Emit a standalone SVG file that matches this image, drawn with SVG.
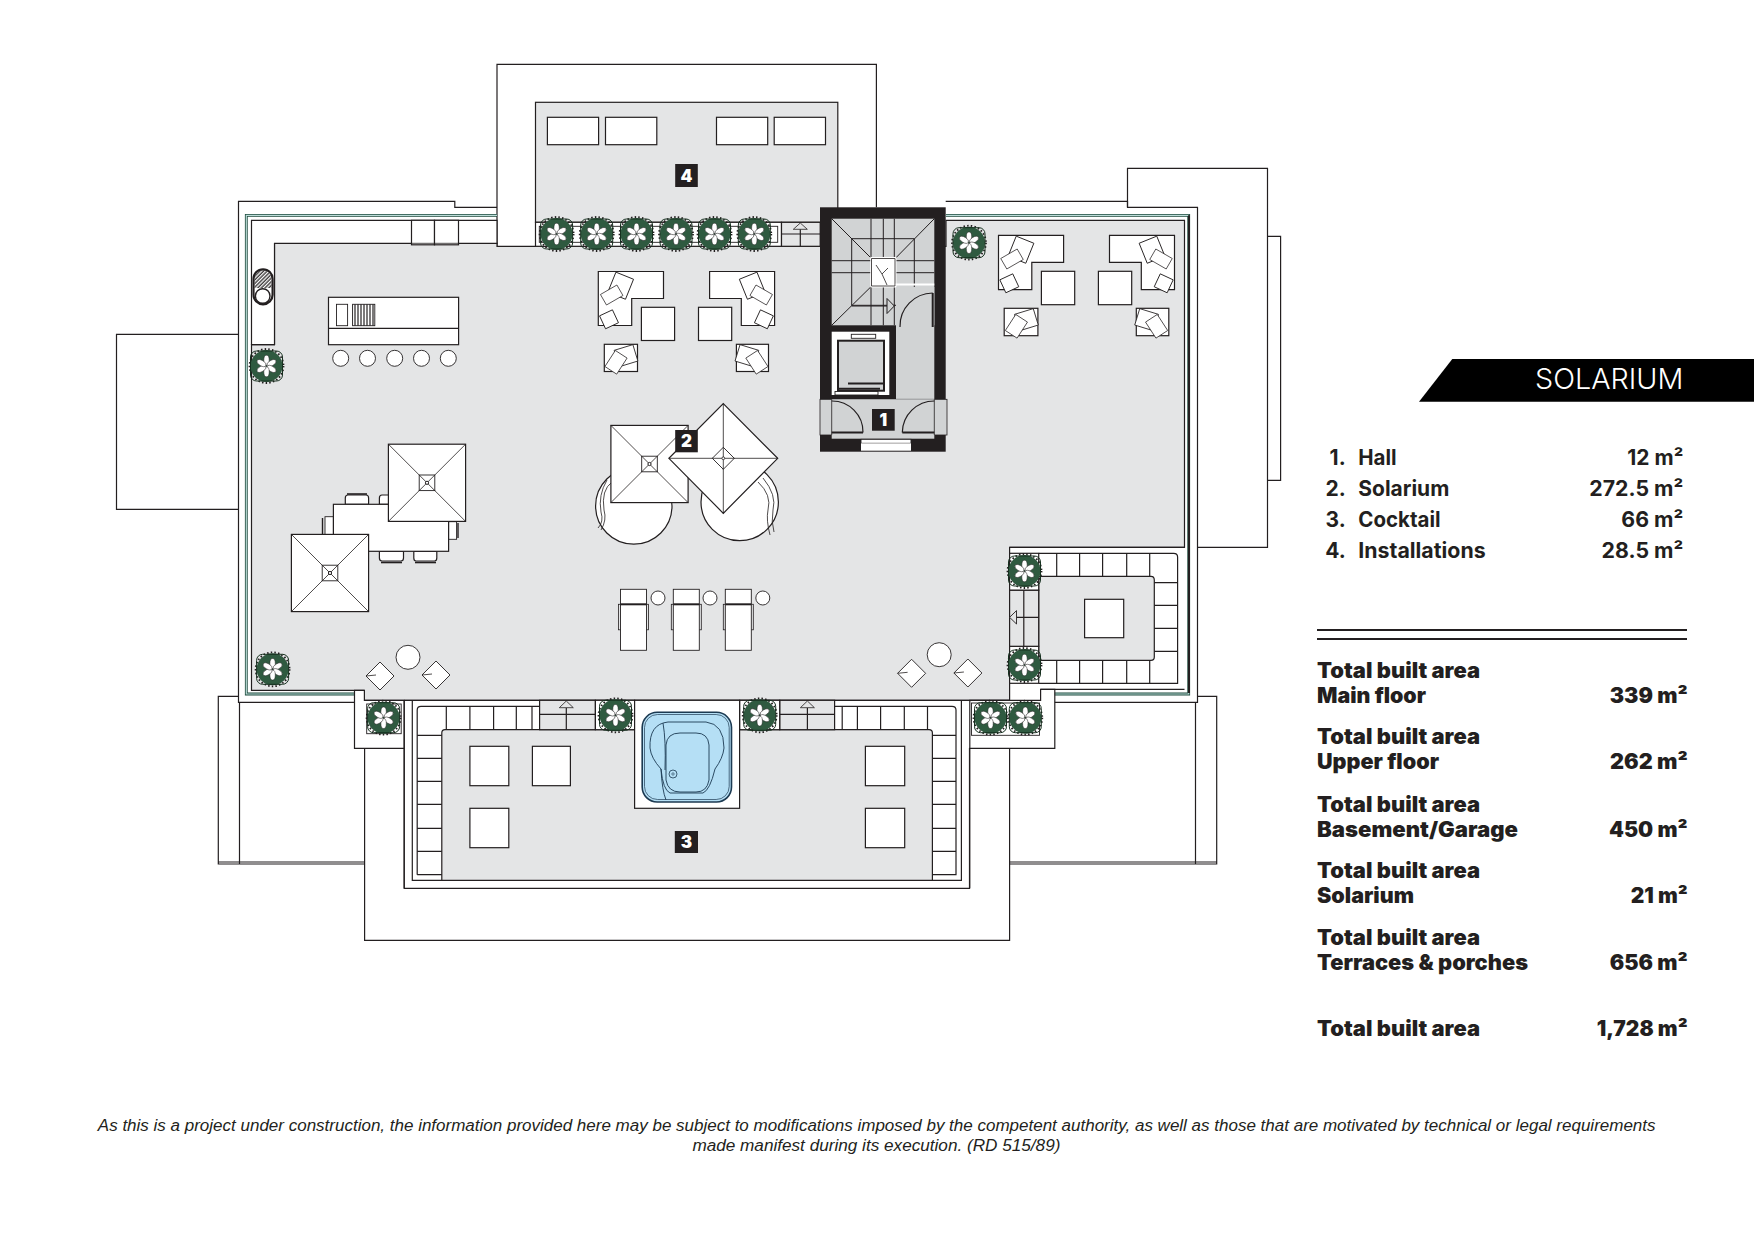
<svg xmlns="http://www.w3.org/2000/svg" xmlns:xlink="http://www.w3.org/1999/xlink" width="1754" height="1240" viewBox="0 0 1754 1240">
<style>
.l{fill:none;stroke:#231f20;stroke-width:1.2}
.t{fill:none;stroke:#231f20;stroke-width:.8}
.w{fill:#fff;stroke:#231f20;stroke-width:1.2}
.wt{fill:#fff;stroke:#231f20;stroke-width:.9}
.g{fill:#e4e5e6;stroke:#231f20;stroke-width:1.2}
.s{fill:#d1d3d4;stroke:#231f20;stroke-width:.9}
.k{fill:#231f20}
.n{font-family:Inter,"Liberation Sans",sans-serif;font-weight:900;font-size:17px;fill:#fff;text-anchor:middle}
.a{font-family:Inter,"Liberation Sans",sans-serif;font-weight:700;font-size:21px;fill:#231f20}
.b{font-family:Inter,"Liberation Sans",sans-serif;font-weight:900;font-size:21px;fill:#231f20}
.e{text-anchor:end}
.f{font-family:"Liberation Sans",sans-serif;font-style:italic;font-size:16px;fill:#231f20;text-anchor:middle}
</style>
<defs>
<g id="plant">
<circle r="16" fill="#2f5a40"/>
<circle r="17" fill="none" stroke="#231f20" stroke-width="1.8" stroke-dasharray="1.5 2.2"/>
<rect x="-16" y="-15" width="32" height="30" rx="6" fill="none" stroke="#16301f" stroke-width="1"/>
<g fill="#fff" stroke="#231f20" stroke-width=".5">
<ellipse cx="0" cy="-5.8" rx="2.7" ry="5"/>
<ellipse cx="0" cy="-5.8" rx="2.7" ry="5" transform="rotate(60)"/>
<ellipse cx="0" cy="-5.8" rx="2.7" ry="5" transform="rotate(120)"/>
<ellipse cx="0" cy="-5.8" rx="2.7" ry="5" transform="rotate(180)"/>
<ellipse cx="0" cy="-5.8" rx="2.7" ry="5" transform="rotate(240)"/>
<ellipse cx="0" cy="-5.8" rx="2.7" ry="5" transform="rotate(300)"/>
</g>
</g>
<g id="parasol">
<rect x="-38.6" y="-38.6" width="77.2" height="77.2" class="w"/>
<path d="M-38.6-38.6L38.6 38.6M38.6-38.6L-38.6 38.6" class="t"/>
<rect x="-7.8" y="-7.8" width="15.6" height="15.6" class="wt"/>
<path d="M-7.8-7.8L7.8 7.8M7.8-7.8L-7.8 7.8" class="t"/>
<circle r="1.6" fill="#fff" stroke="#231f20"/>
</g>
<rect id="pil" x="-10" y="-11" width="20" height="22" class="wt"/>
<rect id="pils" x="-7.5" y="-7.5" width="15" height="15" class="wt"/>
<g id="bed">
<rect x="-2" y="15" width="30" height="25.5" class="t"/>
<rect x="0" y="0" width="26" height="61" class="wt"/>
<path d="M0 15H26" stroke="#231f20" stroke-width="2"/>
</g>
<g id="seat"><path d="M-14 0L0-14L14 0L0 14Z" class="wt"/><path d="M-14 0L-4 -1" class="t"/></g>
<pattern id="hatch" width="3" height="4" patternUnits="userSpaceOnUse"><path d="M1 0V4" stroke="#231f20" stroke-width="1.2"/></pattern>
<pattern id="diag" width="2.6" height="2.6" patternUnits="userSpaceOnUse" patternTransform="rotate(45)"><path d="M1 0V2.6" stroke="#231f20" stroke-width="1.2"/></pattern>
</defs>
<rect width="1754" height="1240" fill="#fff"/>

<g id="outlines">
<path class="l" d="M497 207.3H454.8V201.3H238.5V702.3H354.5"/>
<path class="l" d="M945.7 201.3H1127.5V207.3H1197.5V702.3H1054.8"/>
<path class="l" d="M1127.5 207.3V168.3H1267.5V547.3H1197.5"/>
<path class="l" d="M1267.5 236.3H1280.6V480.3H1267.5"/>
<path class="l" d="M238.5 334.3H116.5V509.3H238.5"/>
<path class="l" d="M238.5 696.3H218.3V864H364.6M218.3 862H364.6M239.5 702.3V864"/>
<path class="l" d="M1197.5 696.3H1216.7V864H1009.6M1216.7 862H1009.6M1195.5 702.3V864"/>
<path class="l" d="M364.6 748.3V940.3H1009.6V748.3"/>
<path class="l" d="M497 246.3V64.3H876.4V207.3"/>
</g>

<g id="wall-band">
<path d="M497 215.3H246.3V694H354.5" fill="none" stroke="#1d4a3c" stroke-width="2.8"/>
<path d="M497 215.3H246.3V694H354.5" fill="none" stroke="#bcdcd8" stroke-width="1.2"/>
<path d="M946 215.3H1188.7V694H1054.8" fill="none" stroke="#1d4a3c" stroke-width="2.8"/>
<path d="M946 215.3H1188.7V694H1054.8" fill="none" stroke="#bcdcd8" stroke-width="1.2"/>
<path d="M1189 215.3V693" stroke="#231f20" stroke-width="2"/>
</g>

<g id="area-2-solarium">
<path class="g" d="M274.5 243.3H497V246.3H946V220.3H1184.5V547.3H1009.6V700.3H364.4V690.3H251.5V344.7H274.5Z"/>
<path class="w" d="M251.5 344.7V220.3H497V243.3H274.5V344.7Z"/>
<path class="l" d="M364.4 690.3H354.5V748.3H404.2M364.4 700.3H404.2V888.3H969.5V748.3H1054.8V689.3H1040.6V700.3H969.8V888.3"/>
<path class="l" d="M404.2 700.3V888.3"/>
<path class="l" d="M1040.6 689.3H1184.5"/>
<rect x="411.5" y="220.3" width="23" height="24.5" class="w"/><rect x="434.5" y="220.3" width="24" height="24.5" class="w"/>
<path d="M411.5 243.3H458.5" class="t"/>
</g>

<g id="shower">
<rect x="253.5" y="269.3" width="19.1" height="35" rx="9.5" fill="#fff" stroke="#231f20" stroke-width="2.2"/>
<path d="M254.5 279A8.5 9 0 0 1 271.5 279V288H254.5Z" fill="url(#diag)"/>
<circle cx="262.7" cy="296" r="7.3" fill="#fff" stroke="#231f20" stroke-width="1.4"/>
</g>

<g id="bar">
<rect x="328.5" y="297.3" width="130.1" height="47.4" class="w"/>
<path d="M328.5 328.3H458.6" class="l"/>
<rect x="336.5" y="304.3" width="11.1" height="21.4" class="wt"/>
<rect x="352.6" y="304.3" width="22.2" height="21.4" fill="url(#hatch)" stroke="#231f20" stroke-width=".9"/>
<g class="wt"><circle cx="340.7" cy="358.3" r="8"/><circle cx="367.5" cy="358.3" r="8"/><circle cx="394.7" cy="358.3" r="8"/><circle cx="421.5" cy="358.3" r="8"/><circle cx="448.3" cy="358.3" r="8"/></g>
</g>

<g id="lounge-a">
<path class="w" d="M598.3 271.5H663.5V298.5H631.7V325.5H598.3Z"/>
<use href="#pil" transform="translate(620.7 285.7) rotate(22) scale(.95 .98)"/><use href="#pil" transform="translate(611.7 295) rotate(-30) scale(.95 .55)"/><use href="#pils" transform="translate(609 319.3) rotate(-25) scale(.95)"/>
<rect x="641.4" y="307.3" width="33.2" height="33.2" class="w"/>
<rect x="604.3" y="344.3" width="33.2" height="27.2" class="w"/>
<use href="#pil" transform="translate(626 355.7) rotate(-17) scale(.98 .78)"/><use href="#pil" transform="translate(616 362.3) rotate(33) scale(.7 .87)"/>
</g>
<g id="lounge-b">
<path class="w" d="M709.6 271.5H774.6V325.5H741.3V298.5H709.6Z"/>
<use href="#pil" transform="translate(752.2 285.7) rotate(-22) scale(.95 .98)"/><use href="#pil" transform="translate(761.2 295) rotate(30) scale(.95 .55)"/><use href="#pils" transform="translate(763.9 319.3) rotate(25) scale(.95)"/>
<rect x="698.5" y="307.3" width="33.2" height="33.2" class="w"/>
<rect x="736.4" y="344.3" width="32.1" height="27.2" class="w"/>
<use href="#pil" transform="translate(746.9 355.7) rotate(17) scale(.98 .78)"/><use href="#pil" transform="translate(756.9 362.3) rotate(-33) scale(.7 .87)"/>
</g>
<g id="lounge-c">
<path class="w" d="M998.5 235.3H1063.6V262.3H1031.8V289.7H998.5Z"/>
<use href="#pil" transform="translate(1021 249.7) rotate(22) scale(.95 .98)"/><use href="#pil" transform="translate(1012 259) rotate(-30) scale(.95 .55)"/><use href="#pils" transform="translate(1009.3 283.3) rotate(-25) scale(.95)"/>
<rect x="1041.4" y="271.3" width="33.3" height="33.4" class="w"/>
<rect x="1004.2" y="308.3" width="33.7" height="27.4" class="w"/>
<use href="#pil" transform="translate(1026.4 319.7) rotate(-17) scale(.98 .78)"/><use href="#pil" transform="translate(1016.4 326.3) rotate(33) scale(.7 .87)"/>
</g>
<g id="lounge-d">
<path class="w" d="M1109.5 235.3H1174.5V289.7H1141.3V262.3H1109.5Z"/>
<use href="#pil" transform="translate(1152 249.7) rotate(-22) scale(.95 .98)"/><use href="#pil" transform="translate(1161 259) rotate(30) scale(.95 .55)"/><use href="#pils" transform="translate(1163.7 283.3) rotate(25) scale(.95)"/>
<rect x="1098.4" y="271.3" width="33.3" height="33.4" class="w"/>
<rect x="1136.3" y="308.3" width="32.5" height="27.4" class="w"/>
<use href="#pil" transform="translate(1146.6 319.7) rotate(17) scale(.98 .78)"/><use href="#pil" transform="translate(1156.6 326.3) rotate(-33) scale(.7 .87)"/>
</g>

<g id="dining">
<path class="w" d="M345.3 504.3V498Q345.3 495 348 495H366Q368.6 495 368.6 498V504.3Z"/>
<path class="w" d="M379.4 504.3V498Q379.4 495 382 495H400V504.3Z"/>
<rect x="325" y="516.7" width="8.4" height="19" class="wt"/><path d="M322.5 518V534" stroke="#231f20" stroke-width="1.4"/>
<rect x="448.6" y="521.7" width="8" height="17.6" class="wt"/><path d="M458 523V538" stroke="#231f20" stroke-width="1.4"/>
<path class="w" d="M379.4 551.3V558Q379.4 561 382 561H401Q403.5 561 403.5 558V551.3Z"/><path d="M381 562.5H402" stroke="#231f20" stroke-width="1.6"/>
<path class="w" d="M413.8 551.3V558Q413.8 561 416 561H434.5Q436.8 561 436.8 558V551.3Z"/><path d="M415 562.5H436" stroke="#231f20" stroke-width="1.6"/>
<path d="M347 494H367" stroke="#231f20" stroke-width="1.6"/>
<rect x="333.4" y="504.3" width="115.2" height="47" class="w"/>
<use href="#parasol" x="427" y="482.8"/>
<use href="#parasol" x="330" y="573"/>
</g>

<g id="daybeds">
<circle cx="633.8" cy="506" r="38.2" class="w"/>
<path d="M612 482Q601 490 604 510Q607 520 601 530" class="t"/>
<path d="M607 480Q598 495 601 512Q604 522 598 528" class="t"/>
<circle cx="739.7" cy="502" r="38.7" class="w"/>
<path d="M758 482Q772 495 768 510Q766 520 770 535" class="t"/>
<path d="M763 478Q777 495 773 510Q771 522 774 532" class="t"/>
<use href="#parasol" x="649.5" y="464"/>
<path class="w" d="M723.3 403.7L777.7 458.3L723.3 513.3L668.9 458.3Z"/>
<path class="t" d="M723.3 403.7V513.3M668.9 458.3H777.7"/>
<path class="wt" d="M723.3 447.3L734.3 458.3L723.3 469.3L712.3 458.3Z"/>
<path class="t" d="M723.3 447.3V469.3M712.3 458.3H734.3"/>
<circle cx="723.3" cy="458.3" r="1.4" fill="#fff" stroke="#231f20" stroke-width=".8"/>
</g>

<g id="sunbeds">
<use href="#bed" x="620.5" y="589.3"/><use href="#bed" x="673.3" y="589.3"/><use href="#bed" x="725.3" y="589.3"/>
<circle cx="658" cy="598" r="7" class="wt"/><circle cx="710" cy="598" r="7" class="wt"/><circle cx="762.8" cy="598" r="7" class="wt"/>
</g>

<g id="table-set-a"><circle cx="408" cy="657.3" r="12" class="wt"/><use href="#seat" x="380" y="676"/><use href="#seat" x="436" y="675"/></g>
<g id="table-set-b"><circle cx="939.2" cy="654.7" r="12" class="wt"/><use href="#seat" x="911.6" y="673.3"/><use href="#seat" x="967.9" y="673"/></g>

<g id="sofa-east">
<path class="l" d="M1038.7 553.3H1173.6Q1177.6 553.3 1177.6 557V683.3H1038.7"/>
<path class="g" d="M1038.7 576.3H1151Q1154.3 576.3 1154.3 580V657Q1154.3 660.3 1151 660.3H1038.7Z"/>
<path class="l" d="M1056.7 553.3V576.3M1079.6 553.3V576.3M1102.6 553.3V576.3M1126.7 553.3V576.3M1149.7 553.3V576.3M1056.7 660.3V683.3M1079.6 660.3V683.3M1102.6 660.3V683.3M1126.7 660.3V683.3M1149.7 660.3V683.3M1154.3 582.7H1177.6M1154.3 605.3H1177.6M1154.3 628.3H1177.6M1154.3 651.3H1177.6"/>
<rect x="1084.6" y="599.3" width="39.1" height="38.4" class="w"/>
<rect x="1009.6" y="553.3" width="29.1" height="37" class="w"/>
<rect x="1009.6" y="646.3" width="29.1" height="37" class="w"/>
<rect x="1009.6" y="590.3" width="29.1" height="56" fill="#e4e5e6" stroke="#231f20" stroke-width="1.2"/>
<path class="l" d="M1023.8 590.3V646.3M1016.5 617.3H1038.7"/>
<path class="wt" style="fill:#e4e5e6" d="M1009.6 617.3L1016.5 610.6V624Z"/>
<path class="l" d="M1009.6 547.3H1184.5"/>
</g>

<g id="area-3-cocktail">
<path class="l" d="M412.3 700.3V880.3H961.4V700.3M404.2 700.3H1009.6"/>
<path class="l" d="M417.2 874.7V710Q417.2 706.3 421 706.3H539.6M834.6 706.3H952Q956 706.3 956 710V874.7H417.2"/>
<path class="g" d="M445 729.7H929Q932.4 729.7 932.4 733V880.3H441.8V733Q441.8 729.7 445 729.7Z"/>
<path class="l" d="M446.3 706.3V729.7M469.9 706.3V729.7M493.6 706.3V729.7M516.3 706.3V729.7M532 706.3V729.7M842.2 706.3V729.7M857.4 706.3V729.7M880.6 706.3V729.7M904.3 706.3V729.7M927.5 706.3V729.7"/>
<path class="l" d="M417.2 735.3H441.8M417.2 758.3H441.8M417.2 781.3H441.8M417.2 804.3H441.8M417.2 828.3H441.8M417.2 851.3H441.8M932.4 735.3H956M932.4 758.3H956M932.4 781.3H956M932.4 804.3H956M932.4 828.3H956M932.4 851.3H956"/>
<rect x="469.9" y="746.3" width="38.9" height="39.4" class="w"/><rect x="532.4" y="746.3" width="38" height="39.4" class="w"/><rect x="469.9" y="808.3" width="38.9" height="39.4" class="w"/>
<rect x="865.4" y="746.3" width="39.3" height="39.4" class="w"/><rect x="865.4" y="808.3" width="39.3" height="39.4" class="w"/>
<rect x="539.6" y="700.3" width="55.8" height="29.4" class="g"/>
<path class="l" d="M539.6 714.3H595.4M566.3 707.7V729.7"/><path class="t" style="fill:#e4e5e6" d="M566.3 701L573.3 707.7H559.3Z"/>
<rect x="779.7" y="700.3" width="54.9" height="29.4" class="g"/>
<path class="l" d="M779.7 714.3H834.6M807.4 707.7V729.7"/><path class="t" style="fill:#e4e5e6" d="M807.4 701L814.4 707.7H800.4Z"/>
<rect x="595.4" y="700.3" width="39.2" height="29.4" class="w"/><rect x="739.6" y="700.3" width="40.1" height="29.4" class="w"/>
</g>

<g id="spa">
<rect x="634.6" y="700.3" width="105" height="108" class="w"/>
<rect x="642.2" y="712.3" width="89.3" height="89.7" rx="15" fill="#b5dff5" stroke="#1c3a52" stroke-width="1.6"/>
<rect x="644.5" y="714.5" width="84.7" height="85" rx="13" fill="none" stroke="#1c3a52" stroke-width=".7"/>
<path d="M650 748Q649 724 668 722H706Q724 724 724 748Q723 758 715 769Q710 790 703 793H670Q663 790 661 769Q651 758 650 748Z" fill="none" stroke="#1c3a52" stroke-width=".9"/>
<path d="M666 800Q662 790 661 769M663 723Q666 740 665 770" fill="none" stroke="#1c3a52" stroke-width=".9"/>
<path d="M666 745Q667 733 680 733H696Q708 733 709 745V780Q707 792 696 792H680Q668 792 666 780Z" fill="none" stroke="#1c3a52" stroke-width=".9"/>
<circle cx="673" cy="774" r="4" fill="none" stroke="#1c3a52" stroke-width=".8"/><circle cx="673" cy="774" r="1.2" fill="none" stroke="#1c3a52" stroke-width=".6"/>
</g>

<g id="area-4-installations">
<rect x="535.5" y="102.3" width="302.3" height="120" class="g"/>
<rect x="535.5" y="222.3" width="246" height="24" class="w"/>
<rect x="539.3" y="226.3" width="238.4" height="16" class="wt"/>
<rect x="781.5" y="222.3" width="38.7" height="24" class="g"/>
<path class="l" d="M781.5 234H820.2M800.3 229.3V246.3"/><path class="t" style="fill:#e4e5e6" d="M800.3 223L807.3 229.3H793.3Z"/>
<rect x="547.4" y="117.3" width="51.2" height="27.4" class="w"/><rect x="605.5" y="117.3" width="51.3" height="27.4" class="w"/>
<rect x="716.5" y="117.3" width="51.2" height="27.4" class="w"/><rect x="774.2" y="117.3" width="51.3" height="27.4" class="w"/>
</g>

<g id="plants">
<rect x="366.7" y="704" width="34.5" height="29.7" class="wt"/>
<rect x="971.5" y="703" width="68" height="32.3" class="wt"/>
<use href="#plant" x="556.6" y="234"/><use href="#plant" x="596.7" y="234"/><use href="#plant" x="636.5" y="234"/><use href="#plant" x="676" y="234"/><use href="#plant" x="714.5" y="234"/><use href="#plant" x="754.3" y="234"/>
<use href="#plant" x="969" y="242.7"/><use href="#plant" x="266.5" y="366"/><use href="#plant" x="272.6" y="669.3"/>
<use href="#plant" x="383.6" y="717.7"/><use href="#plant" x="615.5" y="715.3"/><use href="#plant" x="759.7" y="715.3"/>
<use href="#plant" x="990.5" y="717.7"/><use href="#plant" x="1025.3" y="717.7"/>
<use href="#plant" x="1024.5" y="571"/><use href="#plant" x="1024.5" y="665"/>
</g>

<g id="area-1-hall">
<rect x="820" y="207.3" width="125.7" height="244.4" class="k"/>
<rect x="831.7" y="218.7" width="102.6" height="106.6" fill="#d1d3d4"/>
<g class="t" style="stroke-width:1">
<path d="M831.7 218.7L871 258M934.3 218.7L895.7 258M831.7 325.3L871 286.7M895.7 286.7L934.3 325.3"/>
<path d="M851.7 238.7H914.3V305.3H851.7Z"/>
<path d="M871 218.7V257.7M883.3 218.7V257.7M894.3 218.7V257.7M871 286.7V325.3M883.3 286.7V325.3M894.3 286.7V325.3M831.7 260.7H871M831.7 272.7H871M895.7 260.7H934.3M895.7 272.7H934.3M851.7 306H887"/>
</g>
<rect x="871" y="257.7" width="24.7" height="29" class="wt" style="stroke:#fff;stroke-width:1.5"/>
<path d="M871.5 258.5H895V286H871.5ZM876 265L882 274L888 268M882 274L887 285" class="t"/>
<path d="M895.7 284.5H934.3" stroke="#fff" stroke-width="2"/>
<path d="M887 298.5L894.3 306L887 313.5Z" class="t" style="fill:#d1d3d4;stroke-width:1"/>
<rect x="896" y="287" width="38.3" height="112.3" fill="#d1d3d4"/>
<rect x="831.7" y="331.7" width="57.6" height="63.3" fill="#fff"/>
<rect x="838" y="340.7" width="46" height="50" fill="#d1d3d4" stroke="#231f20" stroke-width="2"/>
<rect x="851.3" y="334.3" width="24.4" height="4" class="wt"/>
<path d="M838 388.7H880M848 383.5H884" stroke="#231f20" stroke-width="2"/>
<rect x="835" y="391.5" width="43" height="3.5" class="wt"/>
<path d="M932.7 327V293" stroke="#231f20" stroke-width="2"/>
<path d="M932.7 293A33 33 0 0 0 900 327" class="l"/>
<rect x="820" y="399.3" width="127" height="35.7" fill="#d1d3d4" stroke="#231f20" stroke-width=".8"/>
<rect x="831.7" y="399.3" width="102.6" height="39.4" fill="#d1d3d4"/>
<path d="M831.7 399.3V435M934.3 399.3V435" class="t"/>
<path d="M831.7 432.5H863M934.3 432.5H902.3" stroke="#231f20" stroke-width="2"/>
<path d="M831.7 401A31 31 0 0 1 863 432.5M934.3 401A32 32 0 0 0 902.3 432.5" class="l"/>
<rect x="861" y="439.3" width="50" height="4" class="wt"/>
<rect x="861" y="443.3" width="50" height="7.4" fill="#fff"/>
<rect x="872" y="409" width="22.7" height="21.7" class="k"/>
<text x="883.3" y="426" class="n">1</text>
</g>

<g id="labels">
<rect x="675.2" y="164" width="22.6" height="23" class="k"/><text x="686.5" y="181.5" class="n">4</text>
<rect x="675.2" y="430" width="22.6" height="22.3" class="k"/><text x="686.5" y="447" class="n">2</text>
<rect x="674.8" y="831" width="23.2" height="22" class="k"/><text x="686.4" y="848" class="n">3</text>
</g>

<g id="title">
<polygon points="1419,401.7 1452.3,359 1754,359 1754,401.7" fill="#000"/>
<text x="1535" y="389" font-family="Inter,'Liberation Sans',sans-serif" font-weight="300" font-size="29" fill="#fff" textLength="148.3" lengthAdjust="spacingAndGlyphs">SOLARIUM</text>
</g>

<g id="room-list">
<text x="1345.7" y="465" class="a e">1.</text><text x="1358.3" y="465" class="a" textLength="38.3" lengthAdjust="spacingAndGlyphs">Hall</text><text x="1683.3" y="465" class="a e" textLength="56" lengthAdjust="spacingAndGlyphs">12 m²</text>
<text x="1345.7" y="495.7" class="a e">2.</text><text x="1358.3" y="495.7" class="a" textLength="91" lengthAdjust="spacingAndGlyphs">Solarium</text><text x="1683.3" y="495.7" class="a e" textLength="94" lengthAdjust="spacingAndGlyphs">272.5 m²</text>
<text x="1345.7" y="526.7" class="a e">3.</text><text x="1358.3" y="526.7" class="a" textLength="82.3" lengthAdjust="spacingAndGlyphs">Cocktail</text><text x="1683.3" y="526.7" class="a e" textLength="62" lengthAdjust="spacingAndGlyphs">66 m²</text>
<text x="1345.7" y="557.7" class="a e">4.</text><text x="1358.3" y="557.7" class="a" textLength="127.3" lengthAdjust="spacingAndGlyphs">Installations</text><text x="1683.3" y="557.7" class="a e" textLength="81.7" lengthAdjust="spacingAndGlyphs">28.5 m²</text>
<path d="M1317 630H1687M1317 639H1687" stroke="#231f20" stroke-width="2"/>
</g>

<g id="totals">
<text x="1317" y="677.7" class="b" textLength="163" lengthAdjust="spacingAndGlyphs">Total built area</text>
<text x="1317" y="702.7" class="b" textLength="109" lengthAdjust="spacingAndGlyphs">Main floor</text><text x="1687.7" y="702.7" class="b e" textLength="78" lengthAdjust="spacingAndGlyphs">339 m²</text>
<text x="1317" y="744.3" class="b" textLength="163" lengthAdjust="spacingAndGlyphs">Total built area</text>
<text x="1317" y="769.3" class="b" textLength="122" lengthAdjust="spacingAndGlyphs">Upper floor</text><text x="1687.7" y="769.3" class="b e" textLength="77.7" lengthAdjust="spacingAndGlyphs">262 m²</text>
<text x="1317" y="811.7" class="b" textLength="163" lengthAdjust="spacingAndGlyphs">Total built area</text>
<text x="1317" y="836.7" class="b" textLength="201" lengthAdjust="spacingAndGlyphs">Basement/Garage</text><text x="1687.7" y="836.7" class="b e" textLength="78.7" lengthAdjust="spacingAndGlyphs">450 m²</text>
<text x="1317" y="877.7" class="b" textLength="163" lengthAdjust="spacingAndGlyphs">Total built area</text>
<text x="1317" y="902.7" class="b" textLength="97" lengthAdjust="spacingAndGlyphs">Solarium</text><text x="1687.7" y="902.7" class="b e" textLength="57" lengthAdjust="spacingAndGlyphs">21 m²</text>
<text x="1317" y="945" class="b" textLength="163" lengthAdjust="spacingAndGlyphs">Total built area</text>
<text x="1317" y="970" class="b" textLength="211" lengthAdjust="spacingAndGlyphs">Terraces &amp; porches</text><text x="1687.7" y="970" class="b e" textLength="78" lengthAdjust="spacingAndGlyphs">656 m²</text>
<text x="1317" y="1036" class="b" textLength="163" lengthAdjust="spacingAndGlyphs">Total built area</text><text x="1687.7" y="1036" class="b e" textLength="91" lengthAdjust="spacingAndGlyphs">1,728 m²</text>
</g>

<g id="disclaimer">
<text x="876.7" y="1131" class="f" textLength="1557.7" lengthAdjust="spacingAndGlyphs">As this is a project under construction, the information provided here may be subject to modifications imposed by the competent authority, as well as those that are motivated by technical or legal requirements</text>
<text x="876.4" y="1151" class="f" textLength="368" lengthAdjust="spacingAndGlyphs">made manifest during its execution. (RD 515/89)</text>
</g>
</svg>
